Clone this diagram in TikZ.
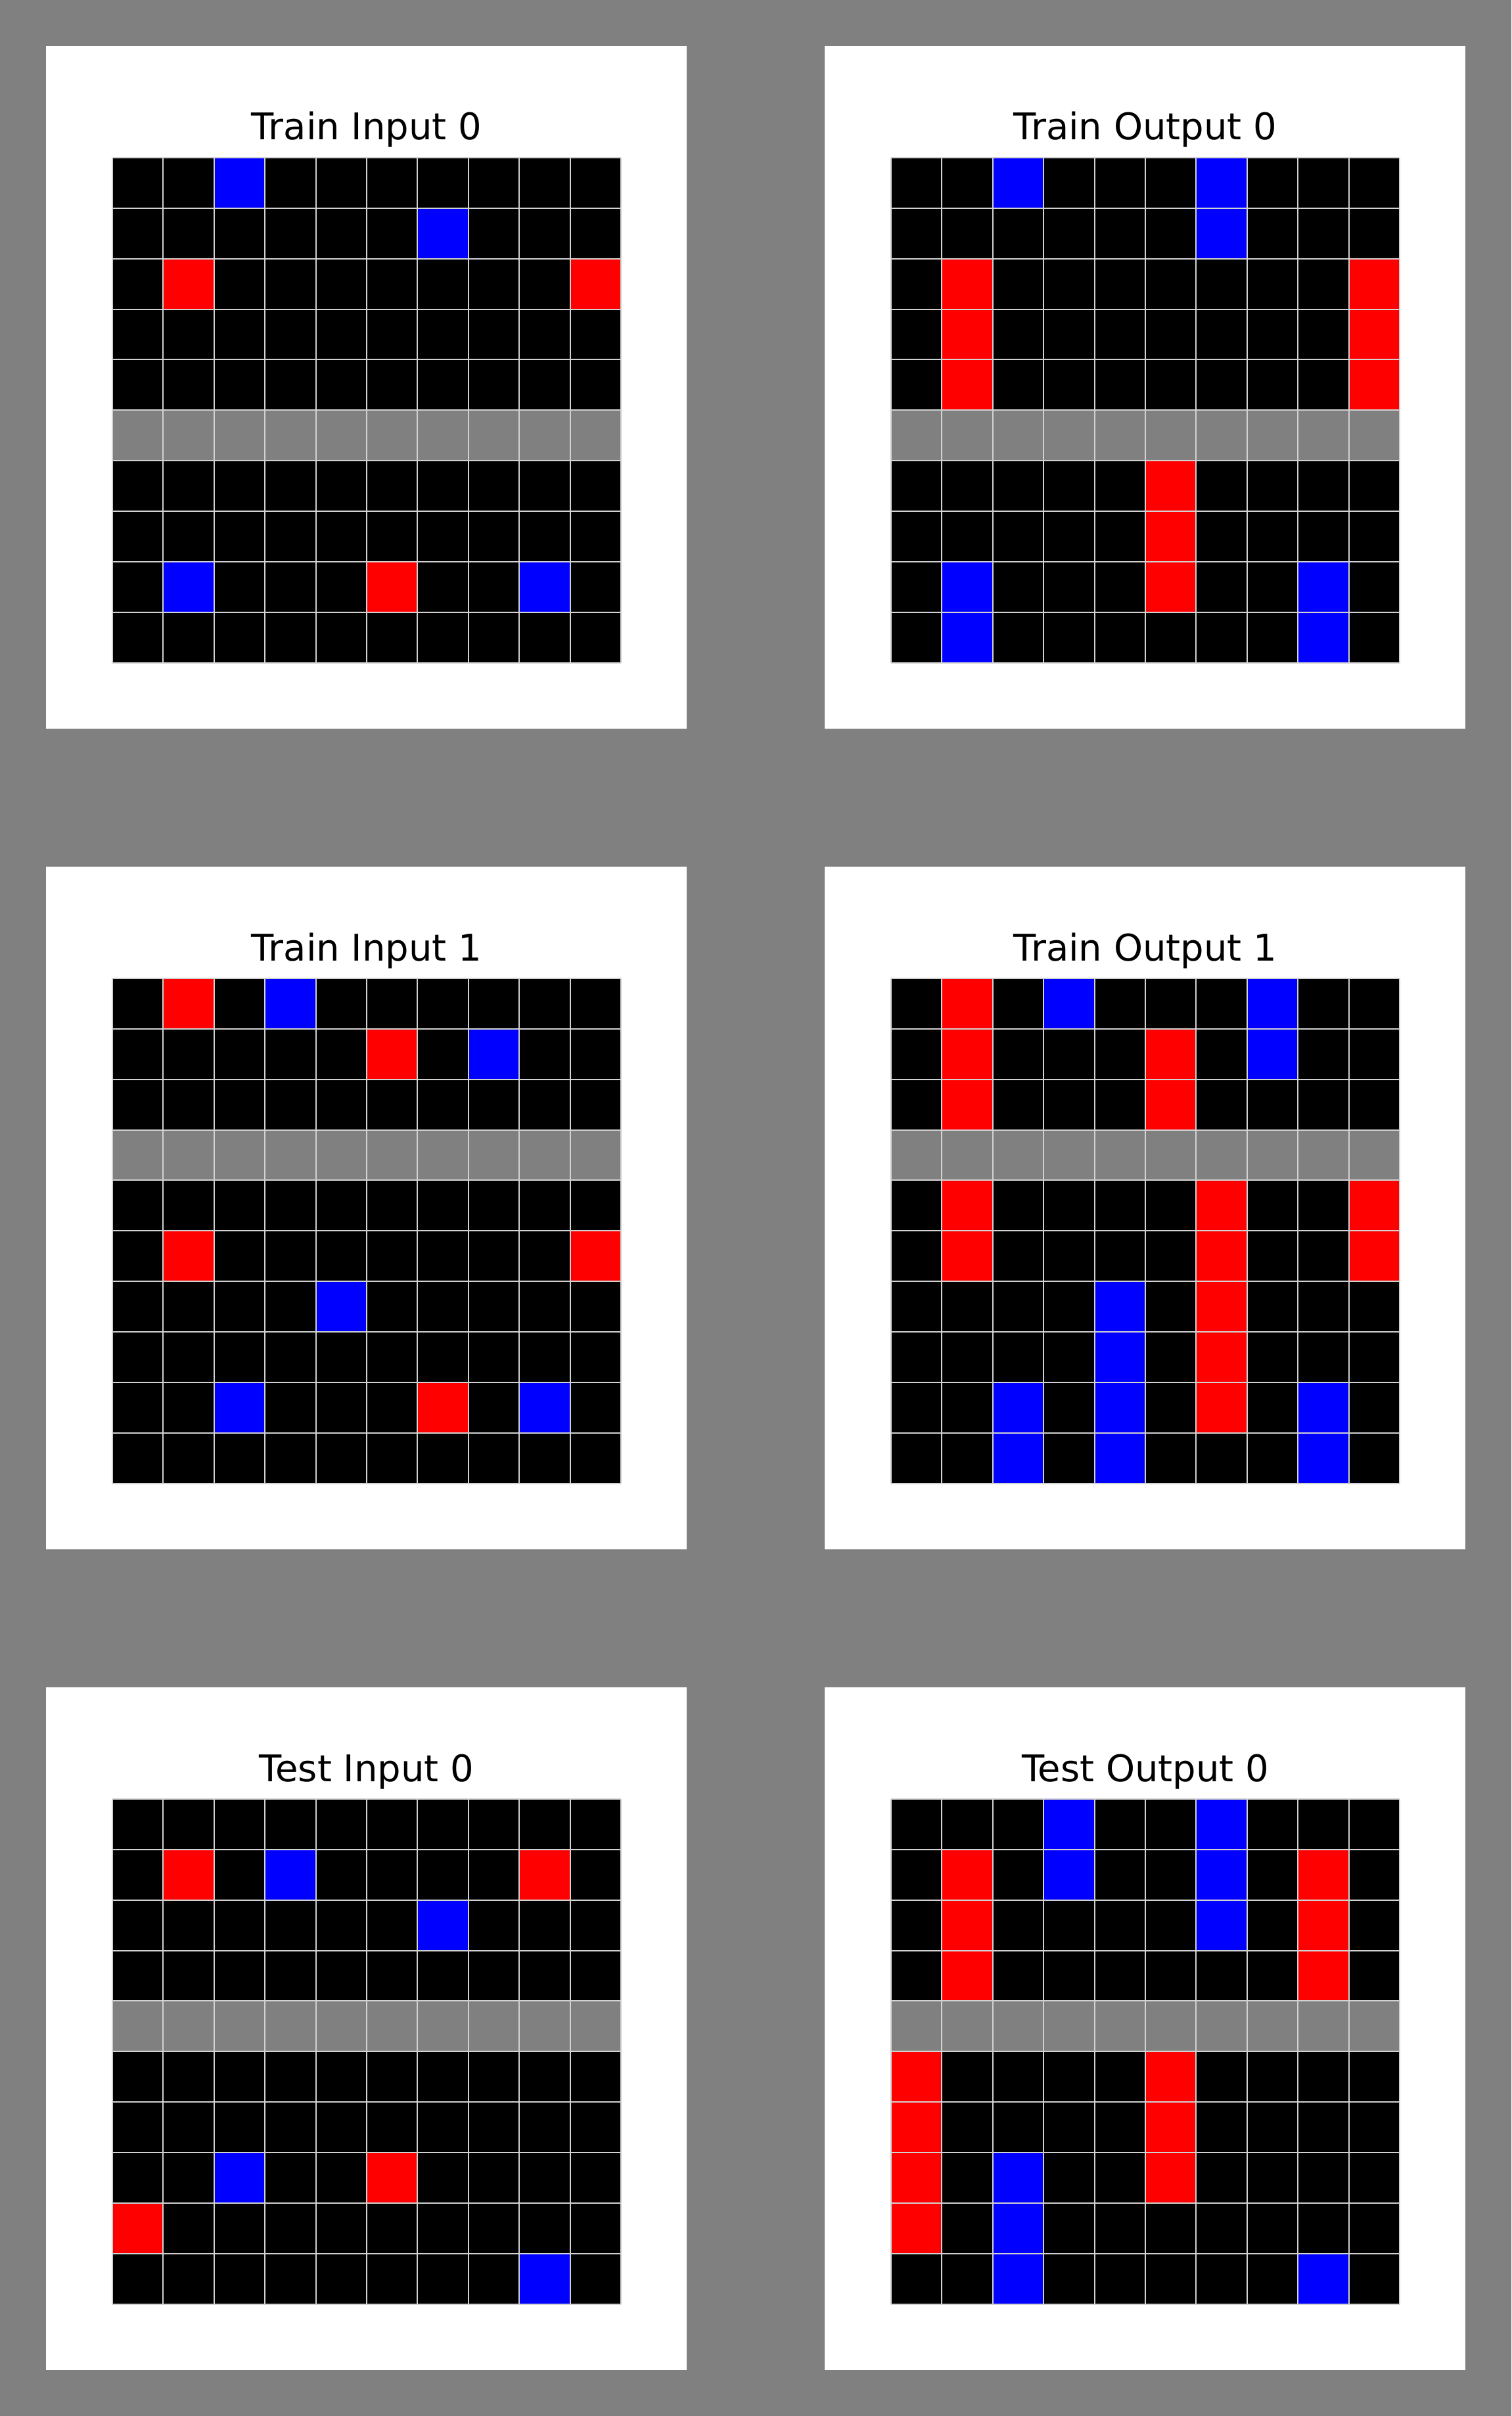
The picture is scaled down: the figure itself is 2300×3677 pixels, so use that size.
\documentclass[tikz,border=0pt]{standalone}
\usepackage{fontspec}
\setmainfont{DejaVu Sans}
\usetikzlibrary{positioning}

% one panel: #1,#2 corner, #3 name, #4 title, #5 gray row, #6 coloured cells row/col/colour
\newcommand{\arcpanel}[6]{%
  \node[panelbox, anchor=north west] (#3) at (#1,#2) {};
  \node[ttl] (#3-title) at ({#1+488},{#2+143}) {#4};
  \begin{scope}[shift={(#1,#2)}]
    \fill[black] (101,170) rectangle ++(774,768.5);
    \fill[gray] (101,{170+#5*76.85}) rectangle ++(774,76.85);
    \foreach \r/\c/\k in {#6}
      \fill[\k] ({101+\c*77.4},{170+\r*76.85}) rectangle ++(77.4,76.85);
    \foreach \i in {0,...,10} {
      \draw[cellline] ({101+\i*77.4},170) -- ++(0,768.5);
      \draw[cellline] (101,{170+\i*76.85}) -- ++(774,0);
    }
  \end{scope}
}

\begin{document}
\begin{tikzpicture}[x=1pt, y=-1pt,
    panelbox/.style={fill=white, draw=none, inner sep=0pt,
                     minimum width=975pt, minimum height=1039pt},
    cellline/.style={draw=gray!35, line width=2pt},
    ttl/.style={font=\fontsize{56}{64}\selectfont, anchor=base, inner sep=0pt},
    ]
\fill[gray] (0,0) rectangle (2300,3677);
\useasboundingbox (0,0) rectangle (2300,3677);

\arcpanel{70}{70}{tin0}{Train Input 0}{5}
  {0/2/blue, 1/6/blue, 2/1/red, 2/9/red, 8/1/blue, 8/5/red, 8/8/blue}
\arcpanel{1255}{70}{tout0}{Train Output 0}{5}
  {0/2/blue, 0/6/blue, 1/6/blue, 2/1/red, 2/9/red, 3/1/red, 3/9/red,
   4/1/red, 4/9/red, 6/5/red, 7/5/red, 8/1/blue, 8/5/red, 8/8/blue,
   9/1/blue, 9/8/blue}

\arcpanel{70}{1319}{tin1}{Train Input 1}{3}
  {0/1/red, 0/3/blue, 1/5/red, 1/7/blue, 5/1/red, 5/9/red, 6/4/blue,
   8/2/blue, 8/6/red, 8/8/blue}
\arcpanel{1255}{1319}{tout1}{Train Output 1}{3}
  {0/1/red, 0/3/blue, 0/7/blue, 1/1/red, 1/5/red, 1/7/blue, 2/1/red,
   2/5/red, 4/1/red, 4/6/red, 4/9/red, 5/1/red, 5/6/red, 5/9/red,
   6/4/blue, 6/6/red, 7/4/blue, 7/6/red, 8/2/blue, 8/4/blue, 8/6/red,
   8/8/blue, 9/2/blue, 9/4/blue, 9/8/blue}

\arcpanel{70}{2568}{xin0}{Test Input 0}{4}
  {1/1/red, 1/3/blue, 1/8/red, 2/6/blue, 7/2/blue, 7/5/red, 8/0/red,
   9/8/blue}
\arcpanel{1255}{2568}{xout0}{Test Output 0}{4}
  {0/3/blue, 0/6/blue, 1/1/red, 1/3/blue, 1/6/blue, 1/8/red, 2/1/red,
   2/6/blue, 2/8/red, 3/1/red, 3/8/red, 5/0/red, 5/5/red, 6/0/red,
   6/5/red, 7/0/red, 7/2/blue, 7/5/red, 8/0/red, 8/2/blue, 9/2/blue,
   9/8/blue}
\end{tikzpicture}
\end{document}
